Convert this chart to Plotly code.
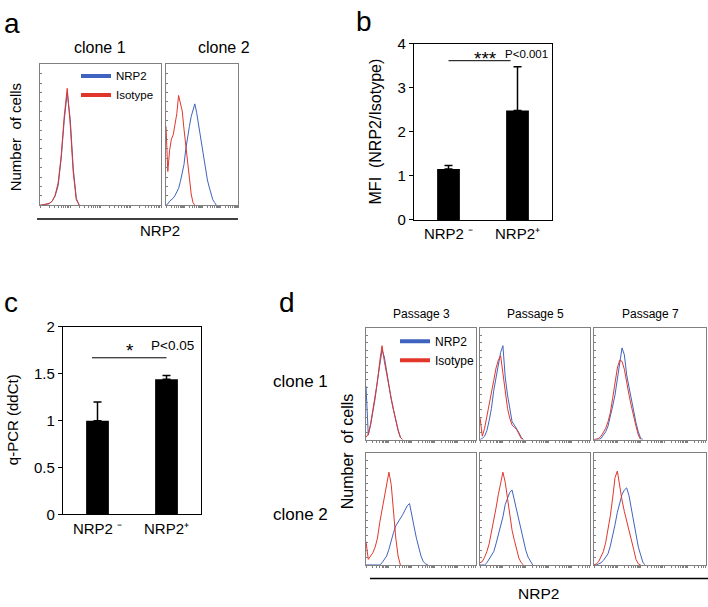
import numpy as np
import plotly.graph_objects as go

W, H = 708, 607
FONT = "Liberation Sans, Arial, Helvetica, sans-serif"
BLUE = "#3F63BE"
RED = "#E2362B"
FRAME = "#808080"

# ---------------- data ----------------
BINS = [0.0, 0.1, 0.2, 0.3, 0.4, 0.5, 0.6, 0.7, 0.8, 0.9, 1.0, 1.1, 1.2, 1.3, 1.4, 1.5,
        1.6, 1.7, 1.8, 1.9, 2.0, 2.1, 2.2, 2.3, 2.4, 2.5, 2.6, 2.7, 2.8, 2.9, 3.0]

# panel a (flow histograms, relative counts)
A_C1_NRP2 = [0.0, 0.002, 0.006, 0.011, 0.03, 0.066, 0.14, 0.33, 0.6, 0.8, 0.61, 0.26, 0.05, 0.0]
A_C1_ISO = [0.0, 0.004, 0.007, 0.013, 0.028, 0.072, 0.16, 0.35, 0.63, 0.83, 0.57, 0.23, 0.04, 0.0]
A_C2_NRP2 = [0.0, 0.01, 0.03, 0.04, 0.05, 0.07, 0.1, 0.12, 0.17, 0.22, 0.29, 0.4, 0.49, 0.56, 0.63,
             0.67, 0.72, 0.66, 0.58, 0.5, 0.41, 0.32, 0.25, 0.18, 0.13, 0.08, 0.04, 0.02, 0.0]
A_C2_ISO = [0.56, 0.24, 0.39, 0.47, 0.5, 0.57, 0.65, 0.78, 0.73, 0.67, 0.54, 0.42, 0.29, 0.2, 0.08, 0.02, 0.0]

# panel b
B_CATS = ["NRP2 \u207b", "NRP2\u207a"]
B_MEAN = [1.16, 2.49]
B_ERR = [0.08, 0.99]
B_SIG_X = [0.0, 0.9]
B_SIG_Y = 3.62

# panel c
C_CATS = ["NRP2 \u207b", "NRP2\u207a"]
C_MEAN = [1.0, 1.44]
C_ERR = [0.2, 0.04]
C_SIG_X = [-0.08, 1.0]
C_SIG_Y = 1.67

# panel d (passage 3/5/7, clone 1/2)
D_P3_C1_NRP2 = [0.48, 0.04, 0.13, 0.25, 0.37, 0.53, 0.68, 0.8, 0.74, 0.6, 0.47, 0.36, 0.26, 0.17, 0.09, 0.02, 0.0]
D_P3_C1_ISO = [0.02, 0.05, 0.14, 0.26, 0.38, 0.52, 0.7, 0.84, 0.7, 0.58, 0.48, 0.37, 0.27, 0.18, 0.08, 0.02, 0.0]
D_P5_C1_NRP2 = [0.0, 0.01, 0.03, 0.08, 0.17, 0.28, 0.44, 0.56, 0.68, 0.78, 0.84, 0.56, 0.4, 0.26, 0.16, 0.13, 0.1, 0.06, 0.02, 0.0]
D_P5_C1_ISO = [0.2, 0.03, 0.1, 0.2, 0.3, 0.42, 0.53, 0.64, 0.71, 0.75, 0.58, 0.43, 0.28, 0.19, 0.13, 0.11, 0.09, 0.05, 0.01, 0.0]
D_P7_C1_NRP2 = [0.0, 0.0, 0.0, 0.01, 0.04, 0.07, 0.12, 0.2, 0.3, 0.4, 0.54, 0.68, 0.82, 0.76, 0.58, 0.47, 0.36, 0.26, 0.15, 0.07, 0.01, 0.0]
D_P7_C1_ISO = [0.0, 0.005, 0.01, 0.03, 0.06, 0.1, 0.16, 0.24, 0.37, 0.52, 0.64, 0.71, 0.7, 0.63, 0.5, 0.4, 0.3, 0.2, 0.12, 0.04, 0.0]
D_P3_C2_NRP2 = [0.0, 0.0, 0.0, 0.0, 0.0, 0.0, 0.0, 0.02, 0.05, 0.08, 0.14, 0.22, 0.29, 0.35, 0.38, 0.42, 0.45,
                0.49, 0.53, 0.55, 0.46, 0.34, 0.24, 0.15, 0.08, 0.03, 0.01, 0.0]
D_P3_C2_ISO = [0.21, 0.05, 0.08, 0.11, 0.16, 0.24, 0.38, 0.5, 0.62, 0.74, 0.83, 0.72, 0.46, 0.24, 0.08, 0.0]
D_P5_C2_NRP2 = [0.0, 0.0, 0.0, 0.02, 0.05, 0.08, 0.12, 0.19, 0.27, 0.35, 0.43, 0.54, 0.6, 0.65, 0.67, 0.58,
                0.49, 0.4, 0.3, 0.22, 0.13, 0.07, 0.03, 0.0]
D_P5_C2_ISO = [0.02, 0.03, 0.07, 0.12, 0.19, 0.29, 0.4, 0.51, 0.63, 0.73, 0.83, 0.74, 0.6, 0.44, 0.31, 0.22, 0.13, 0.06, 0.02, 0.0]
D_P7_C2_NRP2 = [0.0, 0.0, 0.01, 0.02, 0.04, 0.07, 0.1, 0.17, 0.26, 0.36, 0.47, 0.56, 0.63, 0.67, 0.69, 0.62,
                0.5, 0.38, 0.27, 0.16, 0.09, 0.02, 0.0]
D_P7_C2_ISO = [0.0, 0.01, 0.03, 0.07, 0.12, 0.2, 0.31, 0.44, 0.6, 0.78, 0.84, 0.69, 0.58, 0.48, 0.4, 0.32, 0.22, 0.14, 0.05, 0.01, 0.0]

D_PASSAGES = ["Passage 3", "Passage 5", "Passage 7"]
D_CLONES = ["clone 1", "clone 2"]
D_GRID = [[(D_P3_C1_NRP2, D_P3_C1_ISO), (D_P5_C1_NRP2, D_P5_C1_ISO), (D_P7_C1_NRP2, D_P7_C1_ISO)],
          [(D_P3_C2_NRP2, D_P3_C2_ISO), (D_P5_C2_NRP2, D_P5_C2_ISO), (D_P7_C2_NRP2, D_P7_C2_ISO)]]


# ---------------- helpers ----------------
def px(x):
    return x / W


def py(y):
    return 1 - y / H


def dom_x(a, b):
    return [px(a), px(b)]


def dom_y(top, bottom):
    return [py(bottom), py(top)]


def log_ticks(maxdec):
    vals = []
    for d in range(0, 5):
        for k in range(1, 10):
            v = d + np.log10(k)
            if v <= maxdec:
                vals.append(float(v))
    return vals


fig = go.Figure()
layout = dict(width=W, height=H, margin=dict(l=0, r=0, t=0, b=0), autosize=False,
              paper_bgcolor="white", plot_bgcolor="white", showlegend=True,
              font=dict(family=FONT, color="black"))


def hist_axes(n, xd, yd, xmax):
    sfx = "" if n == 1 else str(n)
    xa = dict(domain=xd, range=[0, xmax], showgrid=False, zeroline=False, showline=True, mirror=True,
              linecolor=FRAME, linewidth=1, ticks="outside", ticklen=2, tickwidth=1, tickcolor=FRAME,
              tickvals=log_ticks(xmax), showticklabels=False, anchor="y" + sfx, fixedrange=True)
    ya = dict(domain=yd, range=[0, 1], showgrid=False, zeroline=False, showline=True, mirror=True,
              linecolor=FRAME, linewidth=1, ticks="inside", ticklen=2, tickwidth=1, tickcolor=FRAME,
              dtick=1 / 15, showticklabels=False, anchor="x" + sfx, fixedrange=True)
    layout["xaxis" + sfx] = xa
    layout["yaxis" + sfx] = ya


def add_hist(n, nrp2, iso):
    sfx = "" if n == 1 else str(n)
    fig.add_trace(go.Scatter(x=BINS[:len(nrp2)], y=nrp2, mode="lines", line=dict(color=BLUE, width=1),
                             xaxis="x" + sfx, yaxis="y" + sfx, showlegend=False, hoverinfo="skip"))
    fig.add_trace(go.Scatter(x=BINS[:len(iso)], y=iso, mode="lines", line=dict(color=RED, width=1),
                             xaxis="x" + sfx, yaxis="y" + sfx, showlegend=False, hoverinfo="skip"))


# ---- panel a ----
hist_axes(1, dom_x(40, 161), dom_y(57, 202), 4.0)
hist_axes(2, dom_x(166, 238), dom_y(57, 202), 4.0)
add_hist(1, A_C1_NRP2, A_C1_ISO)
add_hist(2, A_C2_NRP2, A_C2_ISO)
for nm, col in [("NRP2", BLUE), ("Isotype", RED)]:
    fig.add_trace(go.Scatter(x=[None], y=[None], mode="lines", line=dict(color=col, width=4), name=nm,
                             xaxis="x", yaxis="y", legend="legend"))

# ---- panel b ----
layout["xaxis3"] = dict(domain=dom_x(414, 552), range=[-0.5, 1.5], showgrid=False, zeroline=False,
                        showline=True, mirror=True, linecolor="black", linewidth=1.2, ticks="",
                        tickvals=[0, 1], ticktext=B_CATS, tickfont=dict(size=15), anchor="y3", fixedrange=True)
layout["yaxis3"] = dict(domain=dom_y(36, 217), range=[0, 4], dtick=1, showgrid=False, zeroline=False,
                        showline=True, mirror=True, linecolor="black", linewidth=1.2, ticks="outside",
                        ticklen=4, tickcolor="black", tickfont=dict(size=15), anchor="x3", fixedrange=True)
fig.add_trace(go.Bar(x=[0, 1], y=B_MEAN, width=0.33, marker=dict(color="black", line=dict(width=0)),
                     error_y=dict(type="data", symmetric=False, array=B_ERR, arrayminus=[0, 0],
                                  color="black", thickness=1.5, width=4),
                     xaxis="x3", yaxis="y3", showlegend=False))
fig.add_trace(go.Scatter(x=B_SIG_X, y=[B_SIG_Y, B_SIG_Y], mode="lines", line=dict(color="black", width=1),
                         xaxis="x3", yaxis="y3", showlegend=False))

# ---- panel c ----
layout["xaxis4"] = dict(domain=dom_x(63, 201), range=[-0.5, 1.5], showgrid=False, zeroline=False,
                        showline=True, mirror=True, linecolor="black", linewidth=1.2, ticks="",
                        tickvals=[0, 1], ticktext=C_CATS, tickfont=dict(size=15), anchor="y4", fixedrange=True)
layout["yaxis4"] = dict(domain=dom_y(327, 520), range=[0, 2], dtick=0.5, showgrid=False, zeroline=False,
                        showline=True, mirror=True, linecolor="black", linewidth=1.2, ticks="outside",
                        ticklen=4, tickcolor="black", tickfont=dict(size=15), anchor="x4", fixedrange=True)
fig.add_trace(go.Bar(x=[0, 1], y=C_MEAN, width=0.33, marker=dict(color="black", line=dict(width=0)),
                     error_y=dict(type="data", symmetric=False, array=C_ERR, arrayminus=[0, 0],
                                  color="black", thickness=1.5, width=4),
                     xaxis="x4", yaxis="y4", showlegend=False))
fig.add_trace(go.Scatter(x=C_SIG_X, y=[C_SIG_Y, C_SIG_Y], mode="lines", line=dict(color="black", width=1),
                         xaxis="x4", yaxis="y4", showlegend=False))

# ---- panel d ----
COLS = [(366, 476), (480, 590), (594, 706)]
ROWS = [(328, 443), (457, 572)]
n = 5
for r, (yt, yb) in enumerate(ROWS):
    for c, (xl, xr) in enumerate(COLS):
        hist_axes(n, dom_x(xl, xr), dom_y(yt, yb), 4.8)
        add_hist(n, *D_GRID[r][c])
        n += 1
for nm, col in [("NRP2", BLUE), ("Isotype", RED)]:
    fig.add_trace(go.Scatter(x=[None], y=[None], mode="lines", line=dict(color=col, width=4), name=nm,
                             xaxis="x5", yaxis="y5", legend="legend2"))

layout["legend"] = dict(x=px(76), y=py(54), xanchor="left", yanchor="top", bgcolor="rgba(0,0,0,0)",
                        font=dict(size=11.5), itemwidth=30, tracegroupgap=0)
layout["legend2"] = dict(x=px(395), y=py(327), xanchor="left", yanchor="top", bgcolor="rgba(0,0,0,0)",
                         font=dict(size=12), itemwidth=30, tracegroupgap=0)

# ---- decorations ----
layout["shapes"] = [
    dict(type="line", xref="paper", yref="paper", x0=px(37), x1=px(238), y0=py(216), y1=py(216),
         line=dict(color="black", width=1.5)),
    dict(type="line", xref="paper", yref="paper", x0=px(370), x1=px(708), y0=py(586), y1=py(586),
         line=dict(color="black", width=1.5)),
]


def ann(text, x, y, size, angle=0, xanchor="center"):
    return dict(text=text, x=px(x), y=py(y), xref="paper", yref="paper", showarrow=False,
                font=dict(size=size, family=FONT, color="black"), textangle=angle,
                xanchor=xanchor, yanchor="middle")


annotations = [
    ann("a", 2, 15, 28, xanchor="left"),
    ann("b", 354, 13, 28, xanchor="left"),
    ann("c", 2, 302, 28, xanchor="left"),
    ann("d", 277, 302, 28, xanchor="left"),
    ann("clone 1", 100, 40, 16),
    ann("clone 2", 224, 40, 16),
    ann("Number  of cells", 15, 132, 15, angle=-90),
    ann("NRP2", 160, 228, 15),
    ann("MFI  (NRP2/Isotype)", 375, 126, 16, angle=-90),
    ann("q-PCR (ddCt)", 12, 423, 15, angle=-90),
    ann("clone 1", 300, 383, 17),
    ann("clone 2", 300, 520, 17),
    ann("Number  of cells", 347, 455, 16, angle=-90),
    ann("NRP2", 538, 601, 15.5),
]
for i, p in enumerate(D_PASSAGES):
    xl, xr = COLS[i]
    annotations.append(ann(p, (xl + xr) / 2, 314, 12))
annotations += [
    dict(text="***", x=0.53, y=3.68, xref="x3", yref="y3", showarrow=False,
         font=dict(size=19, family=FONT, color="black"), yanchor="middle"),
    dict(text="P<0.001", x=1.13, y=3.77, xref="x3", yref="y3", showarrow=False,
         font=dict(size=11.5, family=FONT, color="black"), yanchor="middle"),
    dict(text="*", x=0.47, y=1.75, xref="x4", yref="y4", showarrow=False,
         font=dict(size=19, family=FONT, color="black"), yanchor="middle"),
    dict(text="P<0.05", x=1.09, y=1.8, xref="x4", yref="y4", showarrow=False,
         font=dict(size=13.5, family=FONT, color="black"), yanchor="middle"),
]
layout["annotations"] = annotations

fig.update_layout(**layout)
fig.write_html("out.html")
